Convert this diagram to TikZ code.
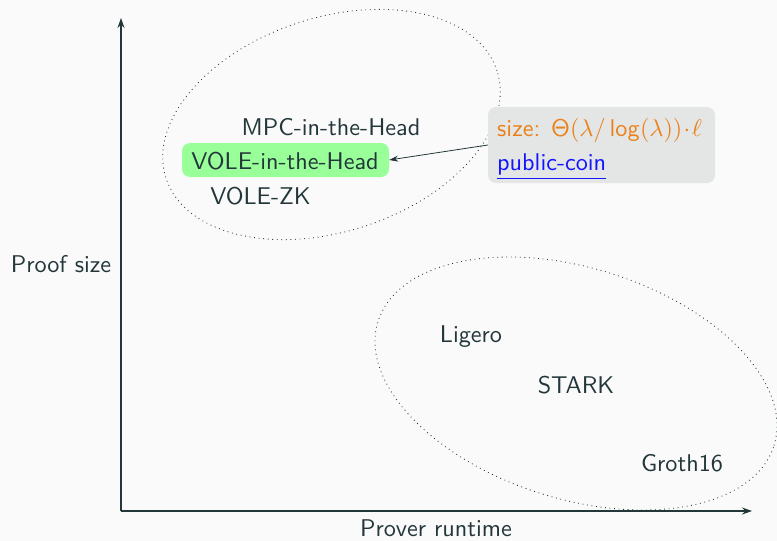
\documentclass[tikz,border=0pt]{standalone}
\usepackage{graphicx}
\usetikzlibrary{arrows.meta,shapes.geometric}
\definecolor{bg}{HTML}{FAFAFA}
\definecolor{fg}{HTML}{23373B}
\definecolor{mOrange}{HTML}{EB811B}
\definecolor{grpgreen}{RGB}{153,255,153}
\definecolor{boxgray}{RGB}{228,230,230}
\definecolor{linkblue}{RGB}{20,20,255}
\newcommand\bigtxt[1]{\scalebox{2.42}{#1}}
\begin{document}
\begin{tikzpicture}[x=1pt,y=-1pt,
  font=\fontsize{10}{12}\selectfont\sffamily,
  every node/.style={text=fg},
  lbl/.style={anchor=base, inner sep=0pt},
  grpell/.style={ellipse, draw=fg, line width=0.85pt, dash pattern=on 0.85pt off 3.7pt, inner sep=0pt},
  axis/.style={draw=fg, line width=1.1pt, -{Stealth[length=10pt,width=7pt]}},
  hl/.style={fill=grpgreen, rounded corners=8pt, inner sep=0pt, minimum width=207pt, minimum height=34pt},
  infobox/.style={fill=boxgray, rounded corners=8pt, inner sep=0pt, minimum width=227pt, minimum height=76pt},
  pointer/.style={draw=fg, line width=0.8pt, -{Stealth[length=9pt,width=6pt]}}
]
\fill[bg] (0,0) rectangle (777,541);
\useasboundingbox (0,0) rectangle (777,541);

% axes
\coordinate (origin) at (121,511);
\coordinate (ytip) at (121,18);
\coordinate (xtip) at (752,511);
\draw[axis] (origin) -- (ytip);
\draw[axis] (origin) -- (xtip);
\node[lbl] (ylab) at (61,272) {\bigtxt{Proof size}};
\node[lbl] (xlab) at (436,536.5) {\bigtxt{Prover runtime}};

% groups
\node[grpell, minimum width=348pt, minimum height=214pt, rotate=18] (g1) at (331.5,124.5) {};
\node[grpell, minimum width=415pt, minimum height=231pt, rotate=-17.4] (g2) at (576,383.5) {};

% upper group
\node[hl] (vole) at (285.5,160) {};
\node[lbl] (voletxt) at (285,169) {\bigtxt{VOLE-in-the-Head}};
\node[lbl] (mpc) at (331,135) {\bigtxt{MPC-in-the-Head}};
\node[lbl] (volezk) at (260.5,204) {\bigtxt{VOLE-ZK}};

% lower group
\node[lbl] (ligero) at (471,342) {\bigtxt{Ligero}};
\node[lbl] (stark) at (576,393) {\bigtxt{STARK}};
\node[lbl] (groth) at (682,471.5) {\bigtxt{Groth16}};

% info box
\node[infobox] (info) at (601.5,145) {};
\node[lbl, anchor=base west, text=mOrange] (size) at (497,136)
  {\bigtxt{size:\ \hspace{0.12em}$\mathsf{\Theta}(\lambda/\,\mathsf{log}(\lambda))\!\cdot\!\ell$}};
\node[lbl, anchor=base west, text=linkblue] (coin) at (497,170)
  {\bigtxt{\underline{public-coin}}};
\draw[pointer] (info.west) -- (vole.east);
\end{tikzpicture}
\end{document}
